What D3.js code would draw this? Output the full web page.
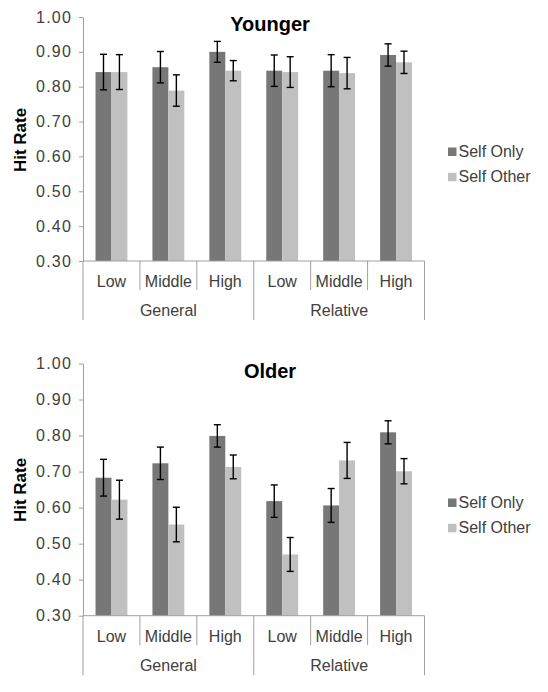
<!DOCTYPE html>
<html>
<head>
<meta charset="utf-8">
<script src="https://cdn.jsdelivr.net/npm/d3@7"></script>
<style>
  html, body { margin: 0; padding: 0; background: #fff; }
  svg { display: block; }
  text { font-family: "Liberation Sans", Arial, sans-serif; }
</style>
</head>
<body>
<svg id="chart" width="548" height="692"></svg>
<script>
// ---- Data ----
const categories = ["Low", "Middle", "High", "Low", "Middle", "High"];
const groups = ["General", "Relative"];
const seriesNames = ["Self Only", "Self Other"];
const yTicks = [0.30, 0.40, 0.50, 0.60, 0.70, 0.80, 0.90, 1.00];

const youngerSelfOnly     = [0.842, 0.856, 0.900, 0.846, 0.846, 0.891];
const youngerSelfOnlyErr  = [0.051, 0.045, 0.030, 0.045, 0.046, 0.032];
const youngerSelfOther    = [0.842, 0.789, 0.846, 0.842, 0.839, 0.870];
const youngerSelfOtherErr = [0.050, 0.045, 0.029, 0.044, 0.045, 0.032];

const olderSelfOnly       = [0.683, 0.723, 0.799, 0.618, 0.606, 0.809];
const olderSelfOnlyErr    = [0.051, 0.045, 0.031, 0.045, 0.047, 0.032];
const olderSelfOther      = [0.622, 0.553, 0.713, 0.470, 0.731, 0.701];
const olderSelfOtherErr   = [0.054, 0.048, 0.033, 0.047, 0.050, 0.035];

const colors = ["#777777", "#c0c0c0"];
const axisColor = "#a0a0a0";
const textColor = "#404040";

const svg = d3.select("#chart");

function drawPanel(cfg) {
  const g = svg.append("g");
  const idx = d3.range(categories.length);
  const x = d3.scaleBand().domain(idx).range([83, 424.5]).paddingInner(0.44).paddingOuter(0.22);
  const xs = d3.scaleBand().domain([0, 1]).range([0, x.bandwidth()]);
  const y = d3.scaleLinear().domain([0.3, 1.0]).range([cfg.bottom, cfg.top]);
  const step = x.step();
  const x0 = 83;

  // bars
  const series = [
    { vals: cfg.a, errs: cfg.ae },
    { vals: cfg.b, errs: cfg.be }
  ];
  series.forEach((s, si) => {
    g.selectAll(null).data(idx).enter().append("rect")
      .attr("x", i => x(i) + xs(si))
      .attr("width", xs.bandwidth())
      .attr("y", i => y(s.vals[i]))
      .attr("height", i => y(0.3) - y(s.vals[i]))
      .attr("fill", colors[si]);
  });
  // error bars
  series.forEach((s, si) => {
    const cx = i => x(i) + xs(si) + xs.bandwidth() / 2;
    const eg = g.selectAll(null).data(idx).enter().append("g")
      .attr("stroke", "#000").attr("stroke-width", 1.4);
    eg.append("line").attr("x1", cx).attr("x2", cx)
      .attr("y1", i => y(s.vals[i] + s.errs[i])).attr("y2", i => y(s.vals[i] - s.errs[i]));
    eg.append("line").attr("x1", i => cx(i) - 3.5).attr("x2", i => cx(i) + 3.5)
      .attr("y1", i => y(s.vals[i] + s.errs[i])).attr("y2", i => y(s.vals[i] + s.errs[i]));
    eg.append("line").attr("x1", i => cx(i) - 3.5).attr("x2", i => cx(i) + 3.5)
      .attr("y1", i => y(s.vals[i] - s.errs[i])).attr("y2", i => y(s.vals[i] - s.errs[i]));
  });

  // y axis
  const yAxis = d3.axisLeft(y).tickValues(yTicks).tickFormat(d3.format(".2f")).tickSize(4).tickSizeOuter(0).tickPadding(7);
  const ya = g.append("g").attr("transform", `translate(${x0},0)`).call(yAxis);
  ya.select(".domain").attr("stroke", axisColor);
  ya.selectAll(".tick line").attr("stroke", axisColor);
  ya.selectAll(".tick text").attr("fill", textColor).attr("font-size", 16)
    .attr("letter-spacing", "1.2px").attr("font-family", "Liberation Sans, Arial, sans-serif");

  // x axis baseline
  const xEnd = x0 + step * categories.length;
  g.append("line").attr("x1", x0).attr("x2", xEnd).attr("y1", y(0.3)).attr("y2", y(0.3))
    .attr("stroke", axisColor);
  // separators
  d3.range(categories.length + 1).forEach(k => {
    const long = (k % 3 === 0);
    g.append("line")
      .attr("x1", x0 + k * step).attr("x2", x0 + k * step)
      .attr("y1", y(0.3)).attr("y2", y(0.3) + (long ? cfg.longTick : cfg.shortTick))
      .attr("stroke", axisColor);
  });
  // category labels
  g.selectAll(null).data(idx).enter().append("text")
    .attr("x", i => x(i) + x.bandwidth() / 2)
    .attr("y", cfg.catBase)
    .attr("text-anchor", "middle")
    .attr("font-size", 16).attr("fill", textColor)
    .text(i => categories[i]);
  // group labels
  g.selectAll(null).data(groups).enter().append("text")
    .attr("x", (d, gi) => x0 + step * (gi * 3 + 1.5))
    .attr("y", cfg.grpBase)
    .attr("text-anchor", "middle")
    .attr("font-size", 16).attr("fill", textColor)
    .text(d => d);

  // title
  g.append("text").attr("x", 270).attr("y", cfg.titleBase)
    .attr("text-anchor", "middle").attr("font-size", 20).attr("font-weight", "bold")
    .attr("fill", "#000").text(cfg.title);

  // y label
  g.append("text")
    .attr("transform", `translate(26,${cfg.ylabY}) rotate(-90)`)
    .attr("text-anchor", "middle").attr("font-size", 17).attr("font-weight", "bold")
    .attr("fill", "#000").text("Hit Rate");

  // legend
  seriesNames.forEach((name, si) => {
    const by = cfg.legBase + si * 25.3;
    g.append("rect").attr("x", 448).attr("y", by - 9.5).attr("width", 8.5).attr("height", 8.5)
      .attr("fill", colors[si]);
    g.append("text").attr("x", 458.5).attr("y", by)
      .attr("font-size", 16).attr("fill", textColor).text(name);
  });
}

drawPanel({
  title: "Younger", top: 17, bottom: 261,
  a: youngerSelfOnly, ae: youngerSelfOnlyErr, b: youngerSelfOther, be: youngerSelfOtherErr,
  shortTick: 29, longTick: 59, catBase: 287, grpBase: 316, titleBase: 31, ylabY: 140, legBase: 157
});
drawPanel({
  title: "Older", top: 363.5, bottom: 615.7,
  a: olderSelfOnly, ae: olderSelfOnlyErr, b: olderSelfOther, be: olderSelfOtherErr,
  shortTick: 29.5, longTick: 59.5, catBase: 642, grpBase: 671, titleBase: 378, ylabY: 490, legBase: 508
});
</script>
</body>
</html>
